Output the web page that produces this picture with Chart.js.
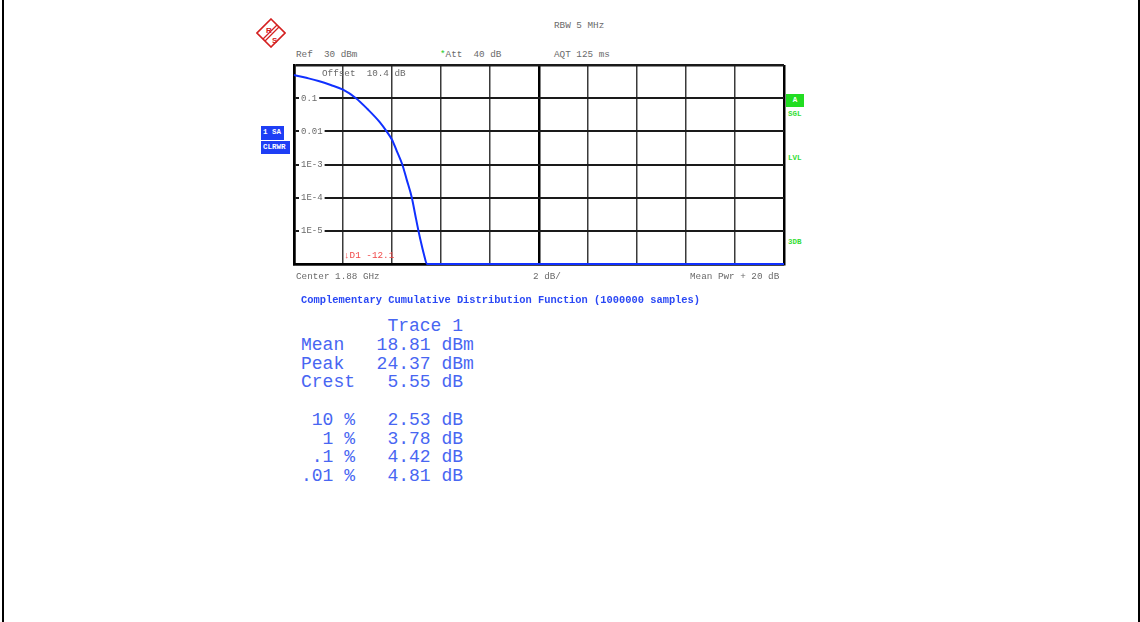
<!DOCTYPE html>
<html>
<head>
<meta charset="utf-8">
<title>CCDF</title>
<script src="https://cdn.jsdelivr.net/npm/chart.js@4.4.1/dist/chart.umd.min.js"></script>
<style>
    html, body { margin: 0; padding: 0; background: #fff; }
    body { width: 1140px; height: 622px; position: relative; overflow: hidden; font-family: "Liberation Mono", monospace; }
    .frame { position: absolute; left: 2px; top: 0; width: 1138px; height: 622px; box-sizing: border-box; border-left: 2px solid #000; border-right: 2px solid #000; }
    .t { position: absolute; white-space: pre; line-height: 1; }
    .small { font-size: 9.3px; color: #6a6a6a; }
    .green { color: #33dd33; font-weight: bold; font-size: 7.5px; }
    .box { position: absolute; background: #1e3ef5; color: #fff; font-size: 7.5px; font-weight: bold; line-height: 13px; padding-left: 2px; box-sizing: border-box; }
    #chartWrap { position: absolute; left: 289px; top: 60px; width: 500px; height: 209px; }
    .title { font-size: 10.4px; font-weight: bold; color: #2a48f5; }
    .table { position: absolute; left: 301px; top: 317px; font-size: 18px; line-height: 18.75px; color: #4866f2; white-space: pre; margin: 0; font-family: "Liberation Mono", monospace; }
</style>
</head>
<body>
<div class="frame"></div>

<!-- R&S logo -->
<svg style="position:absolute;left:256px;top:18px" width="30" height="30" viewBox="0 0 30 30">
    <polygon points="15,1 29,15 15,29 1,15" fill="none" stroke="#d42020" stroke-width="1.6"/>
    <line x1="23" y1="9" x2="9" y2="23" stroke="#d42020" stroke-width="1.2"/>
    <line x1="21" y1="7" x2="7" y2="21" stroke="#d42020" stroke-width="1.2"/>
    <text x="10" y="15" font-size="8" font-weight="bold" fill="#d42020" font-family="Liberation Sans">R</text>
    <text x="16" y="25" font-size="8" font-weight="bold" fill="#d42020" font-family="Liberation Sans">S</text>
</svg>

<div class="t small" style="left:554px;top:21px">RBW 5 MHz</div>
<div class="t small" style="left:296px;top:50px">Ref  30 dBm</div>
<div class="t small" style="left:440px;top:50px"><span style="color:#22cc22">*</span>Att  40 dB</div>
<div class="t small" style="left:554px;top:50px">AQT 125 ms</div>

<div class="box" style="left:261px;top:126px;width:23px;height:14px">1 SA</div>
<div class="box" style="left:261px;top:141px;width:29px;height:13px">CLRWR</div>

<div style="position:absolute;left:786px;top:94px;width:18px;height:13px;background:#22dd22;color:#fff;font-size:7.5px;font-weight:bold;text-align:center;line-height:13px">A</div>
<div class="t green" style="left:788px;top:111px">SGL</div>
<div class="t green" style="left:788px;top:155px">LVL</div>
<div class="t green" style="left:788px;top:239px">3DB</div>

<div id="chartWrap"><canvas id="ccdfChart" width="500" height="209"></canvas></div>

<div class="t small" style="left:322px;top:69px">Offset  10.4 dB</div>
<div class="t" style="left:344px;top:251px;font-size:9.3px;color:#f04848">&#8595;D1 -12.1</div>

<div class="t small" style="left:296px;top:272px">Center 1.88 GHz</div>
<div class="t small" style="left:533px;top:272px">2 dB/</div>
<div class="t small" style="left:690px;top:272px">Mean Pwr + 20 dB</div>

<div class="t title" style="left:301px;top:295px">Complementary Cumulative Distribution Function (1000000 samples)</div>

<pre class="table">        Trace 1
Mean   18.81 dBm
Peak   24.37 dBm
Crest   5.55 dB

 10 %   2.53 dB
  1 %   3.78 dB
 .1 %   4.42 dB
.01 %   4.81 dB</pre>

<script>
// CCDF trace: power above mean (dB) vs. probability
const levelDb = [0, 0.5, 1, 1.5, 2, 2.53, 3, 3.5, 3.78, 4.0, 4.2, 4.42, 4.6, 4.81, 4.95, 5.08, 5.2, 5.3, 5.43, 20];
const probability = [0.50, 0.41, 0.33, 0.25, 0.18, 0.1, 0.047, 0.019, 0.01, 0.0056, 0.0025, 0.001, 0.00035, 0.0001, 0.00003, 0.00001, 0.000004, 0.000002, 0.000001, 0.000001];

// y axis decades and their labels
const yTickValues = [1, 0.1, 0.01, 1e-3, 1e-4, 1e-5, 1e-6];
const yTickLabels = ['', '0.1', '0.01', '1E-3', '1E-4', '1E-5', ''];

// x axis: 0..20 dB, 2 dB/div
const xMin = 0;
const xMax = 20;
const xStep = 2;

const points = levelDb.map((x, i) => ({ x: x, y: probability[i] }));

function yLabelFor(value) {
    const i = yTickValues.findIndex(v => Math.abs(Math.log10(v) - Math.log10(value)) < 1e-6);
    return i >= 0 ? yTickLabels[i] : '';
}

// axes take no room: labels sit inside the plot, text around it is HTML
function noRoom(scale) {
    if (scale.isHorizontal()) {
        scale.height = 0;
    } else {
        scale.width = 0;
    }
    scale.paddingTop = 0;
    scale.paddingBottom = 0;
    scale.paddingLeft = 0;
    scale.paddingRight = 0;
}

const ctx = document.getElementById('ccdfChart').getContext('2d');
const chart = new Chart(ctx, {
    type: 'line',
    data: {
        datasets: [{
            label: 'Trace 1',
            data: points,
            borderColor: '#1030ff',
            borderWidth: 2,
            pointRadius: 0,
            cubicInterpolationMode: 'monotone',
            fill: false,
            clip: 5
        }]
    },
    options: {
        responsive: false,
        animation: false,
        devicePixelRatio: 1,
        layout: { padding: 5 },
        plugins: {
            legend: { display: false },
            tooltip: { enabled: false }
        },
        scales: {
            x: {
                type: 'linear',
                min: xMin,
                max: xMax,
                afterFit: noRoom,
                ticks: { stepSize: xStep, display: false },
                grid: {
                    drawTicks: false,
                    color: function(c) {
                        const v = c.tick ? c.tick.value : 0;
                        if (v === xMin || v === xMax || v === 10) return '#000';
                        return '#3a3a3a';
                    },
                    lineWidth: function(c) {
                        const v = c.tick ? c.tick.value : 0;
                        if (v === xMin || v === xMax || v === 10) return 2.5;
                        return 1.5;
                    }
                },
                border: { display: true, color: '#000', width: 2.5 }
            },
            y: {
                type: 'logarithmic',
                min: 1e-6,
                max: 1,
                afterFit: noRoom,
                afterBuildTicks: function(scale) {
                    scale.ticks = yTickValues.map(v => ({ value: v }));
                },
                ticks: {
                    mirror: true,
                    padding: 7,
                    color: '#6a6a6a',
                    font: { family: 'Liberation Mono', size: 9 },
                    showLabelBackdrop: true,
                    backdropColor: function(c) {
                        return c.tick && yLabelFor(c.tick.value) ? '#fff' : 'rgba(0,0,0,0)';
                    },
                    backdropPadding: { left: 2, right: 2, top: 1, bottom: 1 },
                    callback: function(value) {
                        return yLabelFor(value);
                    }
                },
                grid: {
                    drawTicks: false,
                    color: '#1a1a1a',
                    lineWidth: function(c) {
                        const v = c.tick ? c.tick.value : 1;
                        return (v === 1 || v === 1e-6) ? 2.5 : 2;
                    }
                },
                border: { display: true, color: '#000', width: 2.5 }
            }
        }
    }
});
</script>
</body>
</html>
